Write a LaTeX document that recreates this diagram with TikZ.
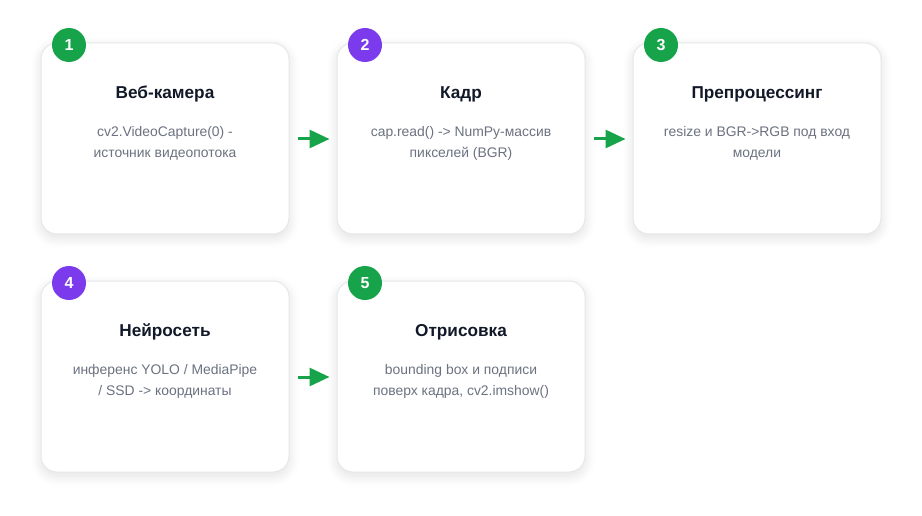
\documentclass[tikz,border=0pt]{standalone}
\usepackage{fontspec}
\setmainfont{Liberation Sans}
\usetikzlibrary{arrows.meta,shadows.blur,positioning}
\definecolor{cgreen}{HTML}{16A34A}
\definecolor{cpurple}{HTML}{7C3AED}
\definecolor{ctitle}{HTML}{111827}
\definecolor{cdesc}{HTML}{6B7280}
\definecolor{cborder}{HTML}{E5E7EB}
\tikzset{
  card/.style={draw=cborder, line width=1pt, fill=white, rounded corners=16pt,
    minimum width=248pt, minimum height=191pt, inner sep=0pt,
    blur shadow={shadow xshift=0pt, shadow yshift=-4pt, shadow blur radius=10pt, shadow blur steps=12, shadow opacity=12}},
  cardtitle/.style={font=\fontsize{17.2}{20}\selectfont\bfseries, text=ctitle, inner sep=0pt},
  carddesc/.style={font=\fontsize{13.9}{21}\selectfont, text=cdesc, align=center, inner sep=0pt, anchor=north},
  badge/.style={circle, minimum size=34pt, inner sep=0pt, text=white, font=\fontsize{16}{16}\selectfont\bfseries},
  flow/.style={draw=cgreen, line width=3pt, -{Triangle[length=20pt,width=18pt]}, shorten <=8pt, shorten >=7pt}
}
\begin{document}
\begin{tikzpicture}[x=1pt,y=-1pt]
\useasboundingbox (0,0) rectangle (922,516);
% cards
\node[card] (c1) at (165,138.5) {};
\node[card] (c2) at (461,138.5) {};
\node[card] (c3) at (757,138.5) {};
\node[card] (c4) at (165,376.5) {};
\node[card] (c5) at (461,376.5) {};
% badges
\node[badge, fill=cgreen] (b1) at (69,45) {1};
\node[badge, fill=cpurple] (b2) at (365,45) {2};
\node[badge, fill=cgreen] (b3) at (661,45) {3};
\node[badge, fill=cpurple] (b4) at (69,283) {4};
\node[badge, fill=cgreen] (b5) at (365,283) {5};
% titles
\node[cardtitle] (t1) at (165,94) {Веб-камера};
\node[cardtitle] (t2) at (461,94) {Кадр};
\node[cardtitle] (t3) at (757,94) {Препроцессинг};
\node[cardtitle] (t4) at (165,332) {Нейросеть};
\node[cardtitle] (t5) at (461,332) {Отрисовка};
% descriptions
\node[carddesc] (d1) at (165,126.5) {cv2.VideoCapture(0) -\\источник видеопотока};
\node[carddesc] (d2) at (461,126.5) {cap.read() -> NumPy-массив\\пикселей (BGR)};
\node[carddesc] (d3) at (757,126.5) {resize и BGR->RGB под вход\\модели};
\node[carddesc] (d4) at (165,364.5) {инференс YOLO / MediaPipe\\/ SSD -> координаты};
\node[carddesc] (d5) at (461,364.5) {bounding box и подписи\\поверх кадра, cv2.imshow()};
% arrows
\draw[flow] ([yshift=-0.5pt]c1.east) -- ([yshift=-0.5pt]c2.west);
\draw[flow] ([yshift=-0.5pt]c2.east) -- ([yshift=-0.5pt]c3.west);
\draw[flow] ([yshift=-0.5pt]c4.east) -- ([yshift=-0.5pt]c5.west);
\end{tikzpicture}
\end{document}
